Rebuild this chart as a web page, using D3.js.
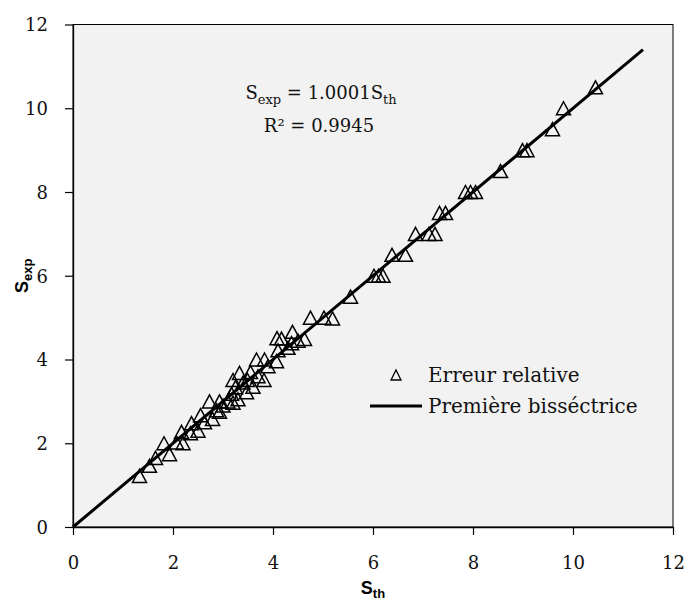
<!DOCTYPE html>
<html>
<head>
<meta charset="utf-8">
<script src="https://cdn.jsdelivr.net/npm/d3@7"></script>
<style>
  body { margin: 0; background: #fff; }
  svg { display: block; }
</style>
</head>
<body>
<svg id="chart"></svg>
<script>
// S_th (x) and S_exp (y) values
const sTh = [1.33, 1.53, 1.65, 1.82, 1.93, 2.07, 2.17, 2.2, 2.35, 2.37, 2.5, 2.55, 2.63, 2.73, 2.79,
  2.87, 2.93, 2.93, 3.0, 3.1, 3.17, 3.2, 3.2, 3.25, 3.3, 3.33, 3.4, 3.47, 3.49, 3.55, 3.6, 3.67,
  3.7, 3.82, 3.83, 3.9, 4.07, 4.1, 4.08, 4.17, 4.3, 4.37, 4.39, 4.5, 4.63,
  4.75, 5.02, 5.19, 5.55, 6.02, 6.11, 6.2, 6.38, 6.65, 6.85, 7.12, 7.24, 7.33, 7.45,
  7.85, 7.95, 8.05, 8.55, 8.99, 9.08, 9.59, 9.81, 10.45];
const sExp = [1.22, 1.46, 1.65, 2.0, 1.74, 2.02, 2.27, 2.0, 2.24, 2.48, 2.3, 2.67, 2.5, 3.0, 2.58,
  2.79, 3.0, 2.75, 2.9, 3.0, 3.18, 3.51, 2.97, 3.34, 3.05, 3.68, 3.45, 3.22, 3.51, 3.7, 3.35, 4.0,
  3.6, 3.51, 4.0, 3.84, 3.96, 4.22, 4.51, 4.5, 4.28, 4.39, 4.66, 4.45, 4.49,
  5.0, 5.0, 4.98, 5.5, 6.0, 6.0, 6.0, 6.5, 6.5, 7.0, 7.0, 7.0, 7.5, 7.5,
  8.0, 8.0, 8.0, 8.5, 9.0, 9.0, 9.5, 10.0, 10.5];
const bisector = [0, 11.4];
const xTicks = [0, 2, 4, 6, 8, 10, 12];
const yTicks = [0, 2, 4, 6, 8, 10, 12];

const width = 686, height = 601;
const margin = { left: 73, right: 13, top: 24.5, bottom: 74 };
const serif = "'DejaVu Serif', 'Liberation Serif', serif";
const sans = "'Liberation Sans', Arial, sans-serif";

const svg = d3.select("#chart").attr("width", width).attr("height", height);

const x = d3.scaleLinear().domain([0, 12]).range([margin.left, width - margin.right]);
const y = d3.scaleLinear().domain([0, 12]).range([height - margin.bottom, margin.top]);

// plot area
svg.append("rect")
  .attr("x", x(0)).attr("y", y(12))
  .attr("width", x(12) - x(0)).attr("height", y(0) - y(12))
  .attr("fill", "#f2f2f2")
  .attr("stroke", "#000").attr("stroke-width", 1);

// axes
const xAxis = svg.append("g")
  .attr("transform", `translate(0,${y(0)})`)
  .call(d3.axisBottom(x).tickValues(xTicks).tickSize(8).tickSizeOuter(0).tickPadding(21));
const yAxis = svg.append("g")
  .attr("transform", `translate(${x(0)},0)`)
  .call(d3.axisLeft(y).tickValues(yTicks).tickSize(8).tickSizeOuter(0).tickPadding(17));

[xAxis, yAxis].forEach(g => {
  g.select(".domain").attr("stroke", "#000").attr("stroke-width", 1.3);
  g.selectAll(".tick line").attr("stroke", "#000").attr("stroke-width", 1.2);
  g.selectAll(".tick text").attr("font-family", serif).attr("font-size", 18).attr("fill", "#111");
});
yAxis.selectAll(".tick text").attr("dy", "0.36em");

// first bisector
svg.append("line")
  .attr("x1", x(bisector[0])).attr("y1", y(bisector[0]))
  .attr("x2", x(bisector[1])).attr("y2", y(bisector[1]))
  .attr("stroke", "#000").attr("stroke-width", 3);

// triangle markers (box centred on the data point)
function tri(w, h) {
  return `M0,${-h / 2}L${w / 2},${h / 2}L${-w / 2},${h / 2}Z`;
}

svg.append("g").selectAll("path")
  .data(d3.range(sTh.length))
  .enter()
  .append("path")
  .attr("transform", i => `translate(${x(sTh[i])},${y(sExp[i])})`)
  .attr("d", tri(14, 13))
  .attr("fill", "none")
  .attr("stroke", "#000")
  .attr("stroke-width", 1.5);

// equation annotation
const eq = svg.append("text")
  .attr("x", 321).attr("y", 99)
  .attr("text-anchor", "middle")
  .attr("font-family", serif).attr("font-size", 18).attr("fill", "#111");
eq.append("tspan").text("S");
eq.append("tspan").attr("font-size", 13).attr("dy", 5).text("exp");
eq.append("tspan").attr("dy", -5).text(" = 1.0001S");
eq.append("tspan").attr("font-size", 13).attr("dy", 5).text("th");

svg.append("text")
  .attr("x", 319).attr("y", 132)
  .attr("text-anchor", "middle")
  .attr("font-family", serif).attr("font-size", 18).attr("fill", "#111")
  .text("R² = 0.9945");

// legend
const legend = svg.append("g");
legend.append("path")
  .attr("transform", "translate(396,375)")
  .attr("d", tri(10, 10))
  .attr("fill", "none").attr("stroke", "#000").attr("stroke-width", 1.3);
legend.append("text")
  .attr("x", 428).attr("y", 382)
  .attr("font-family", serif).attr("font-size", 20).attr("fill", "#111")
  .text("Erreur relative");
legend.append("line")
  .attr("x1", 370).attr("x2", 422).attr("y1", 406).attr("y2", 406)
  .attr("stroke", "#000").attr("stroke-width", 3);
legend.append("text")
  .attr("x", 428).attr("y", 413)
  .attr("font-family", serif).attr("font-size", 20).attr("fill", "#111")
  .text("Première bisséctrice");

// axis titles
const xt = svg.append("text")
  .attr("x", (x(0) + x(12)) / 2).attr("y", 594)
  .attr("text-anchor", "middle")
  .attr("font-family", sans).attr("font-weight", "bold").attr("font-size", 18);
xt.append("tspan").text("S");
xt.append("tspan").attr("font-size", 13).attr("dy", 4).text("th");

const yt = svg.append("text")
  .attr("transform", `translate(28,${(y(0) + y(12)) / 2}) rotate(-90)`)
  .attr("text-anchor", "middle")
  .attr("font-family", sans).attr("font-weight", "bold").attr("font-size", 18);
yt.append("tspan").text("S");
yt.append("tspan").attr("font-size", 13).attr("dy", 4).text("exp");
</script>
</body>
</html>
